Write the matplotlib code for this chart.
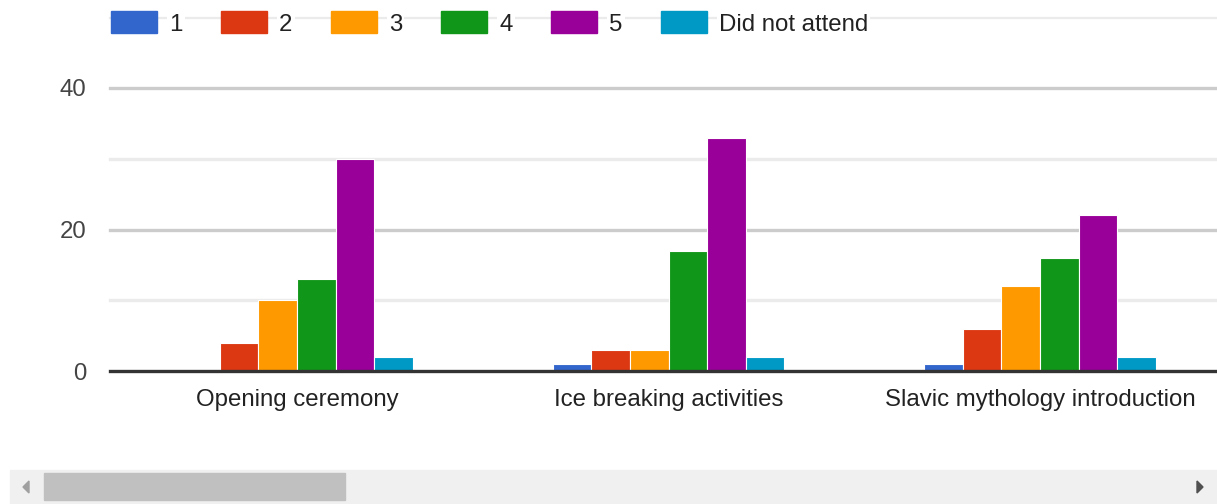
import numpy as np
import matplotlib
matplotlib.use("Agg")
import matplotlib.pyplot as plt
from matplotlib.patches import Rectangle, Polygon
from matplotlib.lines import Line2D

# data
categories = ["Opening ceremony", "Ice breaking activities", "Slavic mythology introduction"]
series_names = ["1", "2", "3", "4", "5", "Did not attend"]
vals_1 = [0, 1, 1]
vals_2 = [4, 3, 6]
vals_3 = [10, 3, 12]
vals_4 = [13, 17, 16]
vals_5 = [30, 33, 22]
vals_dna = [2, 2, 2]
y_ticks = [0, 20, 40]

colors = ["#3366cc", "#dc3912", "#ff9900", "#109618", "#990099", "#0099c6"]
series = [vals_1, vals_2, vals_3, vals_4, vals_5, vals_dna]

plt.rcParams['font.family'] = ['Liberation Sans', 'DejaVu Sans']

W, H = 1217, 504
fig = plt.figure(figsize=(W / 100, H / 100), dpi=100)
ax = fig.add_axes([110 / W, (H - 371) / H, 1 - 110 / W, (371 - 88) / H])

x = np.arange(len(categories))
bw = 0.104
for i, (vals, c) in enumerate(zip(series, colors)):
    ax.bar(x + (i - 2.5) * bw, vals, width=bw, color=c,
           edgecolor="white", linewidth=0.8, zorder=3)

# gridlines
for v in [10, 30]:
    ax.axhline(v, color="#ebebeb", lw=2.4, zorder=1, clip_on=False)
for v in [20, 40]:
    ax.axhline(v, color="#cccccc", lw=2.4, zorder=1, clip_on=False)
ax.axhline(0, color="#333333", lw=2.4, zorder=4, clip_on=False)

ax.set_xlim(-0.503, 2.476)
ax.set_ylim(0, 40)
ax.set_yticks(y_ticks)
ax.set_xticks(x)
ax.set_xticklabels(categories)
ax.tick_params(axis="y", length=0, pad=17, labelsize=17.3, labelcolor="#444444")
ax.tick_params(axis="x", length=0, pad=13, labelsize=17.3, labelcolor="#222222")
for s in ax.spines.values():
    s.set_visible(False)

# legend across top
fig.add_artist(Line2D([110 / W, 1], [(H - 18) / H] * 2, color="#ebebeb", lw=1.6,
                      transform=fig.transFigure, zorder=1))
for i, (name, c) in enumerate(zip(series_names, colors)):
    x0 = 111 + 110 * i
    fig.add_artist(Rectangle((x0 / W, (H - 33) / H), 46 / W, 22 / H, color=c,
                             transform=fig.transFigure, zorder=3))
    fig.text((x0 + 58) / W, (H - 25) / H, name, fontsize=17.3, color="#222222",
             va="center", ha="left", zorder=3,
             bbox=dict(facecolor="white", edgecolor="none", pad=1.5))

# scrollbar
fig.add_artist(Rectangle((10 / W, 0), (W - 10) / W, 34 / H, color="#f0f0f0",
                         transform=fig.transFigure, zorder=1))
fig.add_artist(Rectangle((44 / W, 4 / H), 301 / W, 27 / H, color="#c0c0c0",
                         transform=fig.transFigure, zorder=2))
fig.add_artist(Polygon([[23 / W, 17 / H], [29 / W, 23 / H], [29 / W, 11 / H]],
                       closed=True, color="#a0a0a0", transform=fig.transFigure, zorder=3))
fig.add_artist(Polygon([[1203 / W, 17 / H], [1197 / W, 23 / H], [1197 / W, 11 / H]],
                       closed=True, color="#505050", transform=fig.transFigure, zorder=3))

fig.savefig("out.png", dpi=100, facecolor="white")
